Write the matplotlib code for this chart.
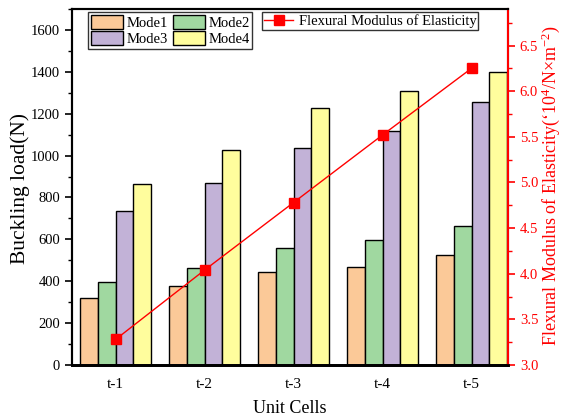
import matplotlib
matplotlib.use('Agg')
import matplotlib.pyplot as plt
import numpy as np

plt.rcParams['font.family'] = ['Liberation Serif', 'DejaVu Serif']
plt.rcParams['mathtext.fontset'] = 'custom'
plt.rcParams['mathtext.rm'] = 'Liberation Serif'
plt.rcParams['mathtext.default'] = 'regular'

cells = ['t-1', 't-2', 't-3', 't-4', 't-5']
modes = ['Mode1', 'Mode2', 'Mode3', 'Mode4']
mode1 = [320, 375, 443, 470, 523]
mode2 = [395, 465, 557, 595, 662]
mode3 = [735, 868, 1038, 1118, 1258]
mode4 = [862, 1028, 1228, 1308, 1398]
modulus = [3.28, 4.04, 4.78, 5.52, 6.25]

colors = ['#fbc998', '#a0d8a0', '#c2b2d7', '#fffd9d']

fig = plt.figure(figsize=(5.63, 4.18), dpi=100)
ax = fig.add_axes([72 / 563, 1 - 365 / 418, 436 / 563, 356 / 418])

x = np.arange(len(cells))
w = 0.2
bars = []
for i, (vals, c, lab) in enumerate(zip([mode1, mode2, mode3, mode4], colors, modes)):
  b = ax.bar(x + (i - 1.5) * w, vals, w, color=c, edgecolor='black', linewidth=1.0, label=lab, zorder=2)
  bars.append(b)

ax.set_xlim(-0.49, 4.41)
ax.set_ylim(0, 1700)
ax.set_yticks(np.arange(0, 1601, 200))
ax.set_yticks(np.arange(0, 1701, 100), minor=True)
ax.set_xticks(x)
ax.set_xticklabels(cells)
ax.tick_params(axis='x', length=0, labelsize=11, pad=9)
ax.tick_params(axis='y', which='major', length=5, width=1.2, labelsize=10.5, direction='out')
ax.tick_params(axis='y', which='minor', length=3, width=1.0, direction='out')
ax.set_xlabel('Unit Cells', fontsize=13, labelpad=7)
for s in ax.spines.values():
  s.set_linewidth(1.5)
ax.spines['bottom'].set_linewidth(2.0)
fig.text(20 / 563, 1 - 188 / 418, 'Buckling load(N)', fontsize=15.5, rotation=90,
         ha='center', va='center')

ax2 = ax.twinx()
ax2.plot(x, modulus, color='red', linewidth=1.0, marker='s', markersize=6.5, zorder=3,
         label='Flexural Modulus of Elasticity')
ax2.set_ylim(3.0, 6.9)
ax2.set_yticks(np.arange(3.0, 6.51, 0.5))
ax2.set_yticks(np.arange(3.0, 6.9, 0.25), minor=True)
ax2.set_yticklabels([f'{v:.1f}' for v in np.arange(3.0, 6.51, 0.5)])
ax2.tick_params(axis='y', which='major', colors='red', length=5, width=1.2, labelsize=10.5)
ax2.tick_params(axis='y', which='minor', colors='red', length=3, width=1.0)
for s in ax2.spines.values():
  s.set_linewidth(1.5)
ax2.spines['bottom'].set_linewidth(2.0)
ax2.spines['right'].set_color('red')
fig.text(551 / 563, 1 - 186 / 418,
         'Flexural Modulus of Elasticity(\u201810$^{4}$/N\u00d7m$^{-2}$)',
         color='red', fontsize=13, rotation=90, ha='center', va='center')

leg1 = ax.legend(handles=[bars[0], bars[2], bars[1], bars[3]], ncol=2, loc='upper left',
                 bbox_to_anchor=(0.037, 0.992), fontsize=10.5, frameon=True, fancybox=False,
                 edgecolor='black', handlelength=2.2, handleheight=1.1, columnspacing=0.3,
                 handletextpad=0.25, labelspacing=0.12, borderpad=0.2, borderaxespad=0)
leg1.get_frame().set_linewidth(1.0)
leg2 = ax2.legend(loc='upper left', bbox_to_anchor=(0.436, 0.992), fontsize=10.5, frameon=True,
                  fancybox=False, edgecolor='black', handlelength=2.0, handletextpad=0.35,
                  borderpad=0.15, borderaxespad=0)
leg2.get_frame().set_linewidth(1.0)

fig.savefig('out.png', dpi=100)
